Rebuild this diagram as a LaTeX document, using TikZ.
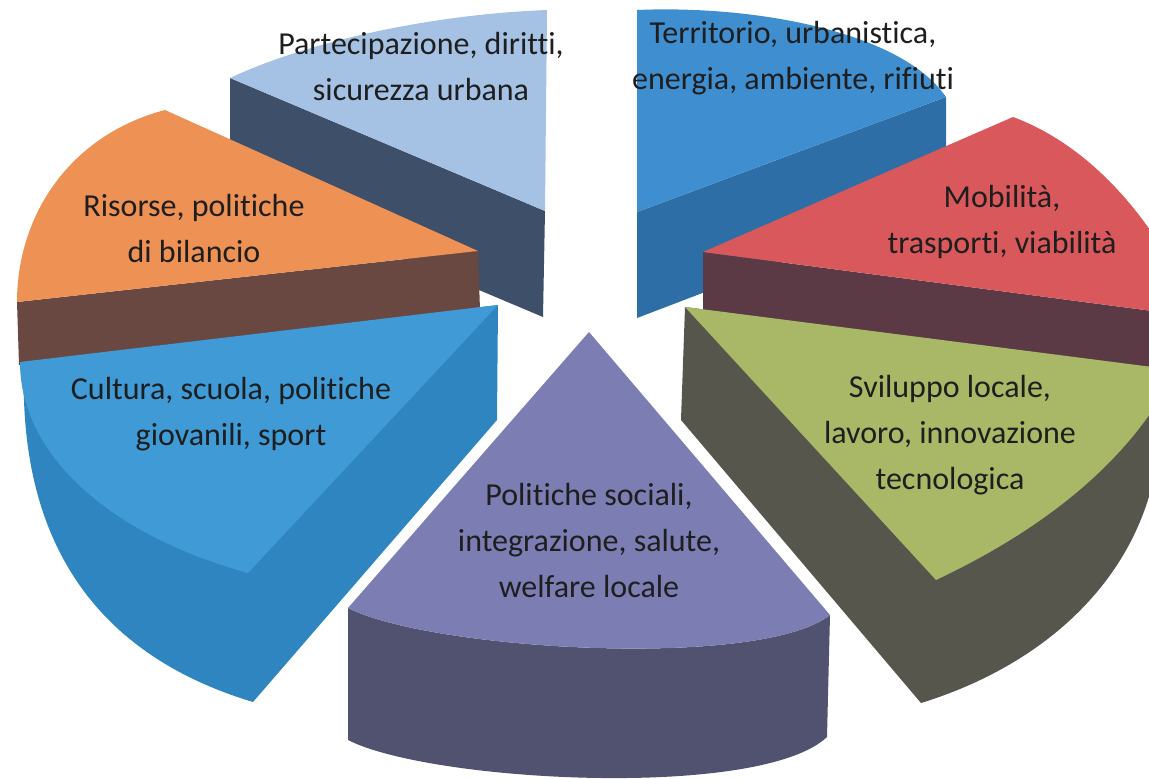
\documentclass[tikz,border=0pt]{standalone}
\usepackage{fontspec}
\setmainfont[Ligatures=NoCommon]{Carlito}
\definecolor{pTop}{HTML}{A5C1E4}
\definecolor{pSide}{HTML}{3D4F69}
\definecolor{tTop}{HTML}{3F8ED0}
\definecolor{tSide}{HTML}{2E6EA6}
\definecolor{mTop}{HTML}{D9585C}
\definecolor{mSide}{HTML}{5B3945}
\definecolor{rTop}{HTML}{EE9154}
\definecolor{rSide}{HTML}{6A4842}
\definecolor{sTop}{HTML}{A8B867}
\definecolor{sSide}{HTML}{56564D}
\definecolor{cTop}{HTML}{3F9AD6}
\definecolor{cSide}{HTML}{2F85C0}
\definecolor{wTop}{HTML}{7B7DB3}
\definecolor{wSide}{HTML}{51526F}
\definecolor{txt}{HTML}{1E1E1E}
\begin{document}
\begin{tikzpicture}[x=1pt,y=-1pt,
  lbl/.style={align=center,anchor=base,text=txt,font=\fontsize{32}{46}\selectfont,inner sep=0pt}]
\useasboundingbox (0,0) rectangle (1149,779);
\clip (0,0) rectangle (1149,779);
% Partecipazione
\fill[pSide] (545,211) -- (230,78) -- (230,185) -- (543,317) -- cycle;
\fill[pTop] (545,211) -- (547,10) .. controls (420,15) and (300,45) .. (230,78) -- cycle;
% Territorio
\fill[tSide] (637,212) -- (946,97) -- (946,200) -- (637,318) -- cycle;
\fill[tTop] (637,212) -- (637,10) .. controls (750,5) and (900,30) .. (946,97) -- cycle;
% Mobilita
\fill[mSide] (703,252) -- (1160,312) -- (1160,400) -- (703,340) -- cycle;
\fill[mTop] (703,252) -- (1013,117) .. controls (1075,140) and (1125,190) .. (1160,245) -- (1160,312) -- cycle;
% Risorse
\fill[rSide] (478,251) -- (17,302) -- (19,365) -- (480,310) -- cycle;
\fill[rTop] (478,251) -- (165,110) .. controls (70,135) and (17,215) .. (17,302) -- cycle;
% Sviluppo
\fill[sSide] (685,307) -- (681,420) -- (921,703) .. controls (1060,660) and (1155,560) .. (1160,430) -- (1160,368) -- cycle;
\fill[sTop] (685,307) -- (1160,368) -- (1156,405) .. controls (1100,490) and (1010,545) .. (936,580) -- cycle;
% Cultura
\fill[cSide] (498,305) -- (497,420) -- (253,702) .. controls (130,665) and (30,580) .. (24,400) -- (22,363) -- cycle;
\fill[cTop] (498,305) -- (20,362) .. controls (20,455) and (110,535) .. (248,573) -- cycle;
% Politiche sociali
\fill[wSide] (348,608) .. controls (430,650) and (760,670) .. (830,615) -- (827,737) .. controls (760,800) and (430,782) .. (348,740) -- cycle;
\fill[wTop] (589,332) -- (830,615) .. controls (760,670) and (430,650) .. (348,608) -- cycle;
% labels (anchor base = baseline of last line)
\node[lbl] (part) at (421,100) {Partecipazione, diritti,\\sicurezza urbana};
\node[lbl] (terr) at (793,89) {Territorio, urbanistica,\\energia, ambiente, rifiuti};
\node[lbl] (mob) at (1002,253) {Mobilità,\\trasporti, viabilità};
\node[lbl] (svi) at (950,489) {Sviluppo locale,\\lavoro, innovazione\\tecnologica};
\node[lbl] (pol) at (589,597) {Politiche sociali,\\integrazione, salute,\\welfare locale};
\node[lbl] (cul) at (231,445) {Cultura, scuola, politiche\\giovanili, sport};
\node[lbl] (ris) at (194,262) {Risorse, politiche\\di bilancio};
\end{tikzpicture}
\end{document}
